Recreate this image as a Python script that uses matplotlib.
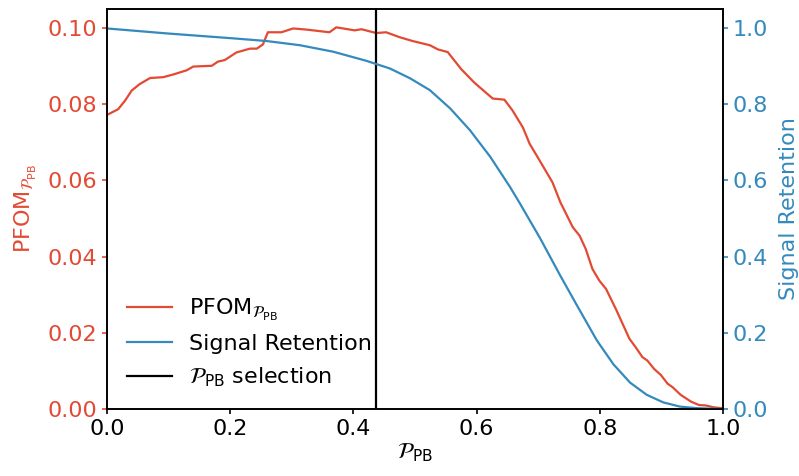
import numpy as np
import matplotlib
matplotlib.use("Agg")
import matplotlib.pyplot as plt
from matplotlib.ticker import FormatStrFormatter

# PFOM curve (left axis)
pfom_x = [0.0, 0.018, 0.029, 0.040, 0.053, 0.070, 0.091, 0.107, 0.129, 0.140,
          0.170, 0.180, 0.191, 0.210, 0.232, 0.243, 0.253, 0.261, 0.283, 0.302,
          0.324, 0.361, 0.372, 0.402, 0.413, 0.437, 0.453, 0.475, 0.496, 0.524,
          0.537, 0.553, 0.575, 0.596, 0.626, 0.645, 0.658, 0.675, 0.686, 0.696,
          0.707, 0.723, 0.736, 0.756, 0.767, 0.777, 0.788, 0.799, 0.810, 0.826,
          0.848, 0.858, 0.869, 0.877, 0.888, 0.899, 0.910, 0.918, 0.931, 0.948,
          0.961, 0.972, 0.985, 0.998]
pfom_y = [0.0772, 0.0787, 0.0809, 0.0836, 0.0853, 0.0869, 0.0871, 0.0878, 0.0889, 0.0899,
          0.0901, 0.0912, 0.0916, 0.0936, 0.0946, 0.0946, 0.0957, 0.0989, 0.0989, 0.0999,
          0.0996, 0.0989, 0.1002, 0.0994, 0.0997, 0.0987, 0.0989, 0.0976, 0.0966, 0.0955,
          0.0944, 0.0937, 0.0892, 0.0857, 0.0815, 0.0812, 0.0784, 0.0739, 0.0696, 0.0669,
          0.0639, 0.0595, 0.0542, 0.0477, 0.0455, 0.0420, 0.0367, 0.0337, 0.0315, 0.0262,
          0.0184, 0.0162, 0.0136, 0.0127, 0.0105, 0.0089, 0.0066, 0.0057, 0.0037, 0.0019,
          0.0010, 0.0009, 0.0004, 0.0002]

# signal retention (right axis)
sig_x = [0.0, 0.097, 0.205, 0.259, 0.313, 0.367, 0.421, 0.459, 0.492, 0.524,
         0.557, 0.589, 0.622, 0.654, 0.670, 0.703, 0.735, 0.762, 0.795, 0.822,
         0.849, 0.876, 0.903, 0.930, 0.957, 0.990, 1.0]
sig_y = [0.999, 0.986, 0.973, 0.966, 0.955, 0.938, 0.914, 0.894, 0.868, 0.837,
         0.789, 0.732, 0.662, 0.583, 0.540, 0.448, 0.352, 0.274, 0.180, 0.117,
         0.069, 0.037, 0.017, 0.006, 0.002, 0.0, 0.0]

cut = 0.437

red = "#E24A33"
blue = "#348ABD"

plt.rcParams["font.size"] = 16

fig = plt.figure(figsize=(7.99, 4.76), dpi=100)
ax1 = fig.add_axes([0.134, 0.141, 0.771, 0.840])
ax2 = ax1.twinx()

l1, = ax1.plot(pfom_x, pfom_y, color=red, lw=1.6, label=r"PFOM$_{\mathcal{P}_{\rm PB}}$")
l2, = ax2.plot(sig_x, sig_y, color=blue, lw=1.6, label="Signal Retention")
l3 = ax1.axvline(cut, color="black", lw=1.6, label=r"$\mathcal{P}_{\rm PB}$ selection")

ax1.set_xlim(0, 1)
ax1.set_ylim(0, 0.105)
ax2.set_ylim(0, 1.05)
ax1.set_yticks([0, 0.02, 0.04, 0.06, 0.08, 0.10])
ax1.yaxis.set_major_formatter(FormatStrFormatter("%.2f"))
ax2.set_yticks([0, 0.2, 0.4, 0.6, 0.8, 1.0])
ax2.yaxis.set_major_formatter(FormatStrFormatter("%.1f"))

ax1.set_xlabel(r"$\mathcal{P}_{\rm PB}$", labelpad=2)
ax1.set_ylabel(r"PFOM$_{\mathcal{P}_{\rm PB}}$", color=red, labelpad=6)
ax2.set_ylabel("Signal Retention", color=blue, labelpad=8)
ax1.tick_params(axis="y", colors=red)
ax2.tick_params(axis="y", colors=blue)
for ax in (ax1, ax2):
    for s in ax.spines.values():
        s.set_linewidth(1.2)
    ax.tick_params(width=1.2)

ax1.legend(handles=[l1, l2, l3], loc="lower left", frameon=False)

fig.savefig("out.png", dpi=100)
